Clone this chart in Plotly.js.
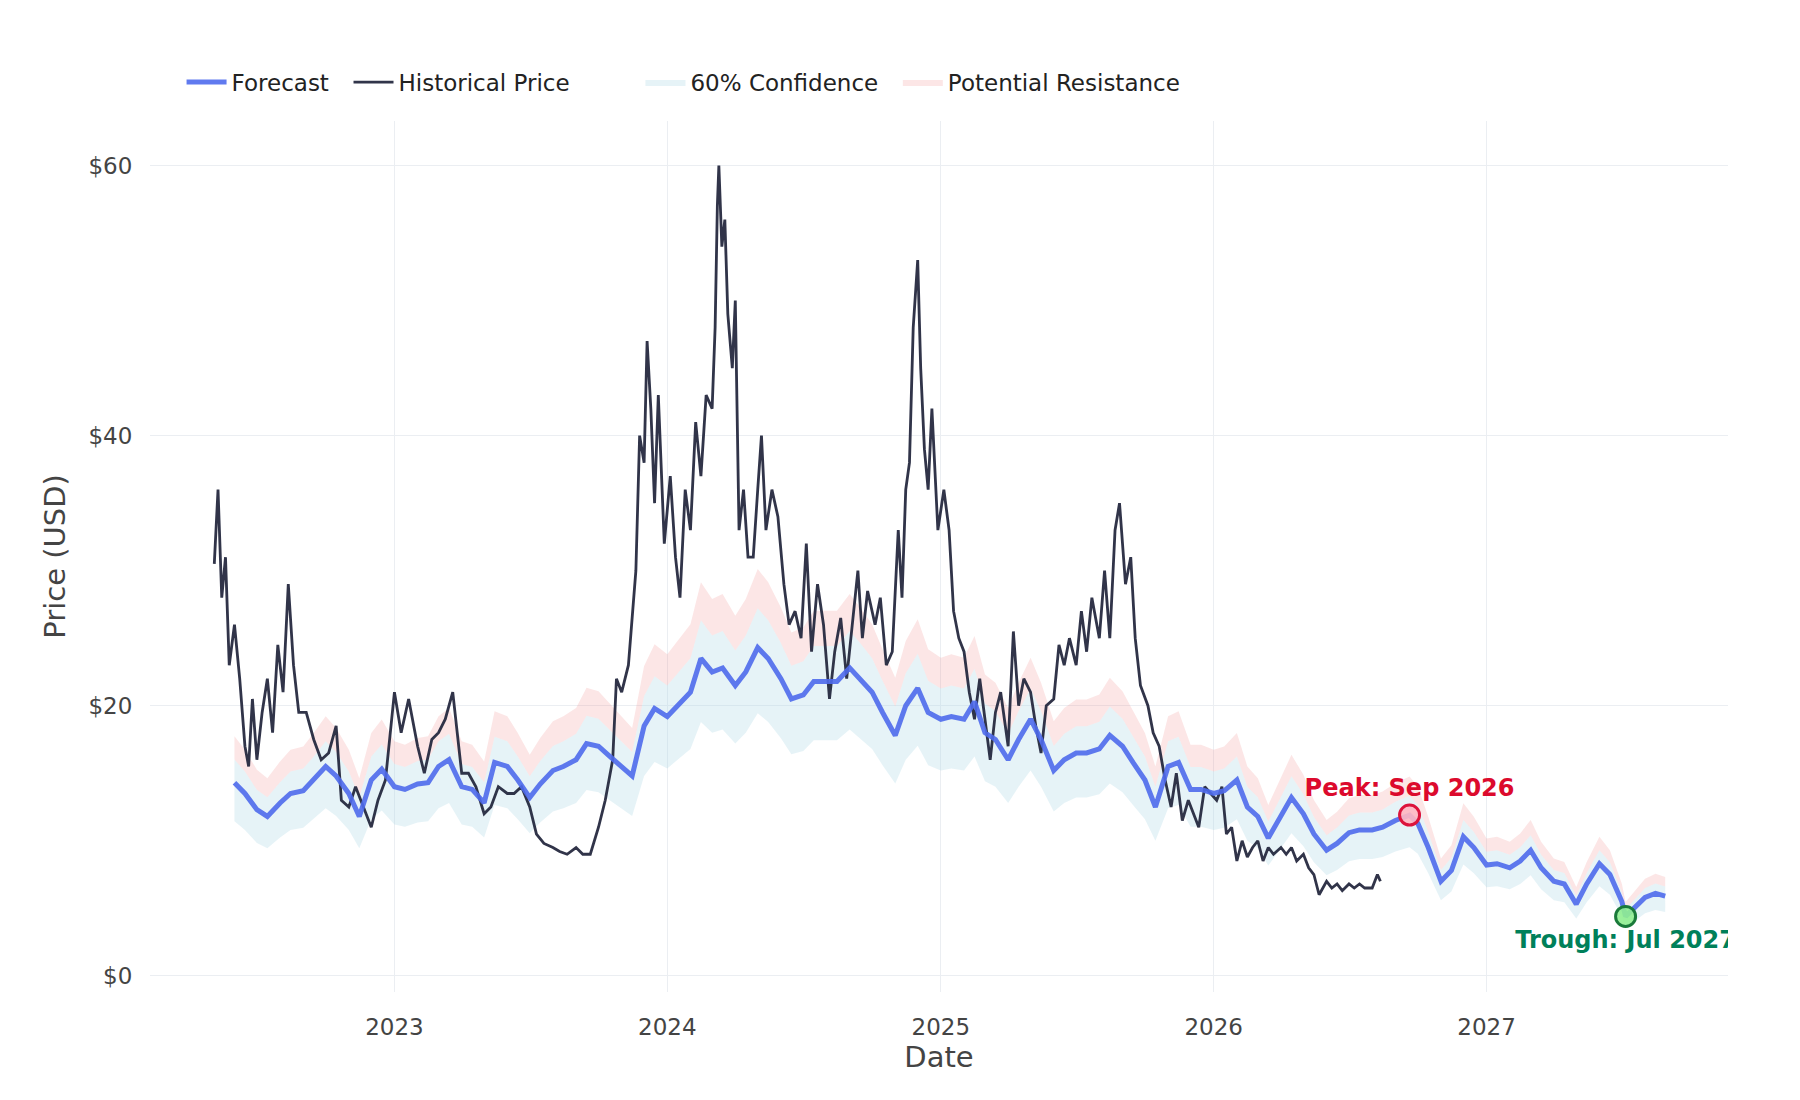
<!DOCTYPE html>
<html>
<head>
<meta charset="utf-8">
<script src="https://cdn.plot.ly/plotly-3.0.1.min.js"></script>
<style>body{margin:0;background:#fff}</style>
</head>
<body>
<div id="chart" style="width:1800px;height:1100px"></div>
<script>
// Historical price
const histDates = ["2022-05-05","2022-05-10","2022-05-15","2022-05-20","2022-05-25","2022-06-01","2022-06-08","2022-06-15","2022-06-20","2022-06-25","2022-07-01","2022-07-08","2022-07-15","2022-07-22","2022-07-29","2022-08-05","2022-08-12","2022-08-19","2022-08-26","2022-09-05","2022-09-15","2022-09-25","2022-10-05","2022-10-15","2022-10-22","2022-11-01","2022-11-10","2022-11-20","2022-12-01","2022-12-10","2022-12-20","2023-01-01","2023-01-10","2023-01-20","2023-02-01","2023-02-10","2023-02-20","2023-03-01","2023-03-10","2023-03-20","2023-04-01","2023-04-10","2023-04-20","2023-05-01","2023-05-10","2023-05-20","2023-06-01","2023-06-10","2023-06-20","2023-07-01","2023-07-10","2023-07-20","2023-08-01","2023-08-10","2023-08-20","2023-09-01","2023-09-10","2023-09-20","2023-10-01","2023-10-10","2023-10-20","2023-10-25","2023-11-01","2023-11-10","2023-11-20","2023-11-25","2023-12-01","2023-12-05","2023-12-10","2023-12-15","2023-12-20","2023-12-28","2024-01-05","2024-01-12","2024-01-18","2024-01-25","2024-02-01","2024-02-08","2024-02-15","2024-02-22","2024-03-01","2024-03-05","2024-03-08","2024-03-10","2024-03-14","2024-03-18","2024-03-22","2024-03-28","2024-04-01","2024-04-06","2024-04-12","2024-04-18","2024-04-25","2024-05-01","2024-05-06","2024-05-12","2024-05-20","2024-05-28","2024-06-05","2024-06-12","2024-06-20","2024-06-28","2024-07-05","2024-07-12","2024-07-20","2024-07-28","2024-08-05","2024-08-12","2024-08-20","2024-08-28","2024-09-05","2024-09-12","2024-09-18","2024-09-25","2024-10-05","2024-10-12","2024-10-20","2024-10-28","2024-11-05","2024-11-10","2024-11-15","2024-11-20","2024-11-25","2024-12-01","2024-12-05","2024-12-10","2024-12-15","2024-12-20","2024-12-28","2025-01-05","2025-01-12","2025-01-18","2025-01-25","2025-02-01","2025-02-08","2025-02-15","2025-02-22","2025-03-01","2025-03-08","2025-03-15","2025-03-22","2025-04-01","2025-04-08","2025-04-15","2025-04-22","2025-05-01","2025-05-08","2025-05-15","2025-05-22","2025-06-01","2025-06-08","2025-06-15","2025-06-22","2025-07-01","2025-07-08","2025-07-15","2025-07-22","2025-08-01","2025-08-08","2025-08-15","2025-08-22","2025-08-28","2025-09-05","2025-09-12","2025-09-18","2025-09-25","2025-10-05","2025-10-12","2025-10-20","2025-10-28","2025-11-05","2025-11-12","2025-11-20","2025-11-28","2025-12-05","2025-12-12","2025-12-20","2025-12-28","2026-01-05","2026-01-12","2026-01-18","2026-01-25","2026-02-01","2026-02-08","2026-02-15","2026-02-22","2026-03-01","2026-03-08","2026-03-15","2026-03-22","2026-04-01","2026-04-08","2026-04-15","2026-04-22","2026-05-01","2026-05-08","2026-05-15","2026-05-22","2026-06-01","2026-06-08","2026-06-15","2026-06-22","2026-07-01","2026-07-08","2026-07-15","2026-07-22","2026-08-01","2026-08-08","2026-08-12"];
const histPrice = [30.5,36,28,31,23,26,22,17,15.5,20.5,16,19.5,22,18,24.5,21,29,23,19.5,19.5,17.5,16,16.5,18.5,13,12.5,14,12.5,11,13,14.5,21,18,20.5,17,15,17.5,18,19,21,15,15,14,12,12.5,14,13.5,13.5,14,12.5,10.5,9.8,9.5,9.2,9,9.5,9,9,11,13,16,22,21,23,30,40,38,47,42,35,43,32,37,31,28,36,33,41,37,43,42,48,57,60,54,56,49,45,50,33,36,31,31,36,40,33,36,34,29,26,27,25,32,24,29,26,20.5,24,26.5,22,26,30,25,28.5,26,28,23,24,33,28,36,38,48,53,45,39,36,42,33,36,33,27,25,24,21,19,22,19,16,19.5,21,17,25.5,20,22,21,18.5,16.5,20,20.5,24.5,23,25,23,27,24,28,25,30,25,33,35,29,31,25,21.5,20,18,17,14.5,12.5,15,11.5,13,12,11,14,13.5,13,14,10.5,11,8.5,10,8.8,9.5,10,8.5,9.5,9,9.5,9,9.5,8.5,9,8,7.5,6,7,6.5,6.8,6.3,6.8,6.5,6.8,6.5,6.5,7.5,7];

// Forecast
const fcDates = ["2022-06-01","2022-06-15","2022-07-01","2022-07-15","2022-08-01","2022-08-15","2022-09-01","2022-09-15","2022-10-01","2022-10-15","2022-11-01","2022-11-15","2022-12-01","2022-12-15","2023-01-01","2023-01-15","2023-02-01","2023-02-15","2023-03-01","2023-03-15","2023-04-01","2023-04-15","2023-05-01","2023-05-15","2023-06-01","2023-06-15","2023-07-01","2023-07-15","2023-08-01","2023-08-15","2023-09-01","2023-09-15","2023-10-01","2023-10-15","2023-11-01","2023-11-15","2023-12-01","2023-12-15","2024-01-01","2024-01-15","2024-02-01","2024-02-15","2024-03-01","2024-03-15","2024-04-01","2024-04-15","2024-05-01","2024-05-15","2024-06-01","2024-06-15","2024-07-01","2024-07-15","2024-08-01","2024-08-15","2024-09-01","2024-09-15","2024-10-01","2024-10-15","2024-11-01","2024-11-15","2024-12-01","2024-12-15","2025-01-01","2025-01-15","2025-02-01","2025-02-15","2025-03-01","2025-03-15","2025-04-01","2025-04-15","2025-05-01","2025-05-15","2025-06-01","2025-06-15","2025-07-01","2025-07-15","2025-08-01","2025-08-15","2025-09-01","2025-09-15","2025-10-01","2025-10-15","2025-11-01","2025-11-15","2025-12-01","2025-12-15","2026-01-01","2026-01-15","2026-02-01","2026-02-15","2026-03-01","2026-03-15","2026-04-01","2026-04-15","2026-05-01","2026-05-15","2026-06-01","2026-06-15","2026-07-01","2026-07-15","2026-08-01","2026-08-15","2026-09-01","2026-09-20","2026-10-01","2026-10-15","2026-11-01","2026-11-15","2026-12-01","2026-12-15","2027-01-01","2027-01-15","2027-02-01","2027-02-15","2027-03-01","2027-03-15","2027-04-01","2027-04-15","2027-05-01","2027-05-15","2027-06-01","2027-06-15","2027-07-01","2027-07-06","2027-08-01","2027-08-15","2027-08-28"];
const fcPrice = [14.3,13.5,12.3,11.8,12.8,13.5,13.7,14.5,15.5,14.8,13.5,11.8,14.5,15.3,14,13.8,14.2,14.3,15.5,16,14,13.8,12.8,15.8,15.5,14.5,13.2,14.2,15.2,15.5,16,17.2,17,16.3,15.5,14.8,18.5,19.8,19.2,20,21,23.5,22.5,22.8,21.5,22.5,24.3,23.5,22,20.5,20.8,21.8,21.8,21.8,22.8,22,21,19.5,17.8,20,21.3,19.5,19,19.2,19,20.3,18,17.5,16,17.5,19,17.5,15.2,16,16.5,16.5,16.8,17.8,17,15.8,14.5,12.5,15.5,15.8,13.8,13.8,13.5,13.7,14.5,12.5,11.8,10.2,11.8,13.2,12,10.5,9.3,9.8,10.6,10.8,10.8,11,11.5,11.9,11.3,9.5,7,7.8,10.3,9.5,8.2,8.3,8,8.5,9.3,8,7,6.8,5.3,6.8,8.3,7.5,5.5,4.4,5.8,6.1,5.9];

// band ratios relative to forecast
const confLowRatio = 0.8;
const confHighRatio = 1.12;
const resistRatio = 1.24;

const peak = {date: "2026-09-20", value: 11.9, label: "Peak: Sep 2026"};
const trough = {date: "2027-07-06", value: 4.4, label: "Trough: Jul 2027"};

const confLow = fcPrice.map(v => v * confLowRatio);
const confHigh = fcPrice.map(v => v * confHighRatio);
const resistHigh = fcPrice.map(v => v * resistRatio);

var traces = [
    {x: fcDates, y: confLow, mode: 'lines', line: {width: 0}, showlegend: false, hoverinfo: 'skip'},
    {x: fcDates, y: confHigh, mode: 'lines', line: {width: 0}, fill: 'tonexty', fillcolor: 'rgba(173,216,230,0.3)', name: '60% Confidence  ', legendrank: 3},
    {x: fcDates, y: confHigh, mode: 'lines', line: {width: 0}, showlegend: false, hoverinfo: 'skip'},
    {x: fcDates, y: resistHigh, mode: 'lines', line: {width: 0}, fill: 'tonexty', fillcolor: 'rgba(240,128,128,0.2)', name: 'Potential Resistance', legendrank: 4},
    {x: histDates, y: histPrice, mode: 'lines', line: {color: '#262a40', width: 2.8}, opacity: 0.95, name: 'Historical Price         ', legendrank: 2},
    {x: fcDates, y: fcPrice, mode: 'lines', line: {color: '#4f6bed', width: 5}, opacity: 0.9, name: 'Forecast  ', legendrank: 1},
    {x: [peak.date], y: [peak.value], mode: 'markers+text', text: [peak.label], textposition: 'top center',
     textfont: {color: '#dc0a2d', size: 24, family: 'DejaVu Sans', weight: 'bold'},
     marker: {size: 20, color: 'rgba(255,182,193,0.9)', line: {color: '#dc143c', width: 3}}, showlegend: false, cliponaxis: true},
    {x: [trough.date], y: [trough.value], mode: 'markers+text', text: [trough.label], textposition: 'bottom center',
     textfont: {color: '#00805a', size: 24, family: 'DejaVu Sans', weight: 'bold'},
     marker: {size: 20, color: 'rgba(144,238,144,0.9)', line: {color: '#1a7a3a', width: 3}}, showlegend: false, cliponaxis: true}
];

var layout = {
    width: 1800, height: 1100,
    font: {family: 'DejaVu Sans', size: 23, color: '#444'},
    paper_bgcolor: '#fff', plot_bgcolor: '#fff',
    margin: {l: 150, r: 72, t: 121, b: 108},
    showlegend: true,
    legend: {orientation: 'h', x: 0.02, xanchor: 'left', y: 1.02, yanchor: 'bottom', itemwidth: 40,
        font: {size: 23, color: '#222'}, traceorder: 'normal'},
    xaxis: {type: 'date', range: ['2022-02-08', '2027-11-20'], title: {text: 'Date', font: {size: 29}, standoff: 8},
        gridcolor: '#ebeef2', showline: false, zeroline: false, dtick: 'M12', tickformat: '%Y',
        ticks: 'outside', ticklen: 14, tickcolor: 'rgba(0,0,0,0)', tickfont: {size: 23}},
    yaxis: {range: [-1.2, 63.3], title: {text: 'Price (USD)', font: {size: 29}, standoff: 14}, tickprefix: '$', dtick: 20,
        gridcolor: '#ebeef2', zeroline: false, ticks: 'outside', ticklen: 12, tickcolor: 'rgba(0,0,0,0)', tickfont: {size: 23}}
};

Plotly.newPlot('chart', traces, layout, {displayModeBar: false});
</script>
</body>
</html>
